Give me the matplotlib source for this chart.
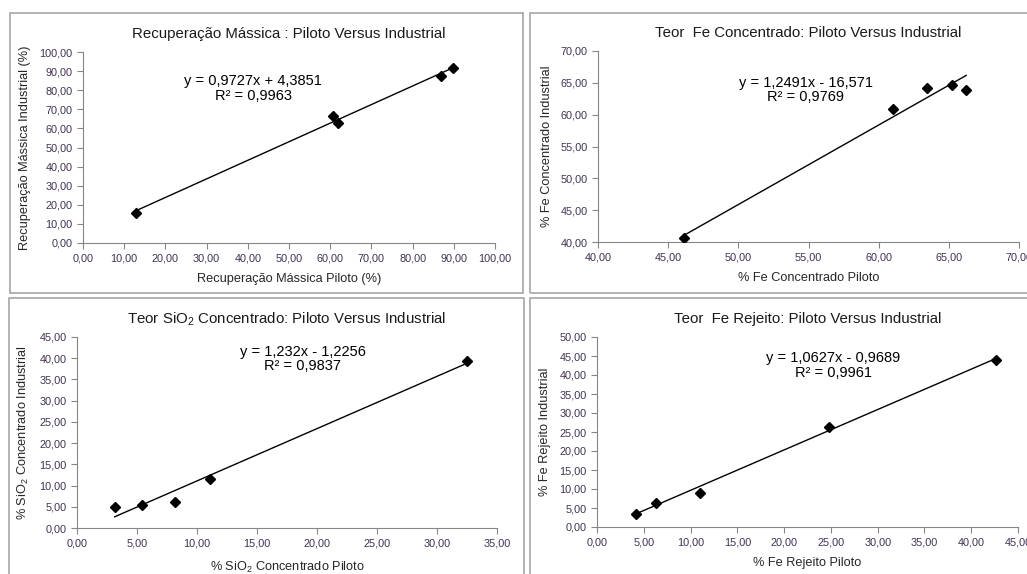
import matplotlib
matplotlib.use("Agg")
import matplotlib.pyplot as plt
from matplotlib.patches import Rectangle
from matplotlib.ticker import FuncFormatter, MultipleLocator
import numpy as np

plt.rcParams['font.family'] = ['Liberation Sans', 'DejaVu Sans']
plt.rcParams['mathtext.fontset'] = 'custom'
plt.rcParams['mathtext.rm'] = 'Liberation Sans'
plt.rcParams['mathtext.it'] = 'Liberation Sans:italic'
plt.rcParams['mathtext.bf'] = 'Liberation Sans:bold'

# --- dados ---
rec_piloto = [12.8, 60.6, 61.9, 87.0, 89.9]
rec_ind = [15.7, 66.3, 62.8, 87.6, 91.6]

fe_conc_piloto = [46.13, 60.99, 63.46, 65.22, 66.24]
fe_conc_ind = [40.57, 60.92, 64.2, 64.73, 63.84]

sio2_piloto = [3.14, 5.44, 8.19, 11.1, 32.5]
sio2_ind = [4.95, 5.5, 6.2, 11.47, 39.36]

fe_rej_piloto = [4.14, 6.31, 11.06, 24.82, 42.69]
fe_rej_ind = [3.5, 6.2, 8.83, 26.2, 43.97]

# coeficientes da linha de tendencia (a, b) e R2
coef_rec = (0.9727, 4.3851, 0.9963)
coef_fe_conc = (1.2491, -16.571, 0.9769)
coef_sio2 = (1.232, -1.2256, 0.9837)
coef_fe_rej = (1.0627, -0.9689, 0.9961)

titulos = ["Recuperação Mássica : Piloto Versus Industrial",
           "Teor  Fe Concentrado: Piloto Versus Industrial",
           "Teor SiO$_\\mathregular{2}$ Concentrado: Piloto Versus Industrial",
           "Teor  Fe Rejeito: Piloto Versus Industrial"]
xlabels = ["Recuperação Mássica Piloto (%)",
           "% Fe Concentrado Piloto",
           "% SiO$_\\mathregular{2}$ Concentrado Piloto",
           "% Fe Rejeito Piloto"]
ylabels = ["Recuperação Mássica Industrial (%)",
           "% Fe Concentrado Industrial",
           "% SiO$_\\mathregular{2}$ Concentrado Industrial",
           "% Fe Rejeito Industrial"]

W, H = 1027, 574
fig = plt.figure(figsize=(W/100, H/100), dpi=100)

def px(l, t, r, b):
    return [l/W, 1-b/H, (r-l)/W, (b-t)/H]

# molduras dos graficos
for (l, t, r, b) in [(10, 13, 523, 293), (530, 13, 1032, 293),
                     (9, 298, 524, 580), (530, 298, 1032, 580)]:
    fig.patches.append(Rectangle((l/W, 1-b/H), (r-l)/W, (b-t)/H,
                                 transform=fig.transFigure, fill=False,
                                 edgecolor='#a6a6a6', linewidth=1.2))

paineis = [
    (rec_piloto, rec_ind, coef_rec, px(83, 52, 495, 243), (0, 100, 10), (0, 100, 10),
     (0.413, 0.81), (-0.125, -0.157)),
    (fe_conc_piloto, fe_conc_ind, coef_fe_conc, px(598, 51, 1019, 242), (40, 70, 5), (40, 70, 5),
     (0.494, 0.796), (-0.107, -0.157)),
    (sio2_piloto, sio2_ind, coef_sio2, px(77, 337, 497, 528), (0, 35, 5), (0, 45, 5),
     (0.538, 0.885), (-0.11, -0.168)),
    (fe_rej_piloto, fe_rej_ind, coef_fe_rej, px(597, 337, 1018, 527), (0, 45, 5), (0, 50, 5),
     (0.561, 0.85), (-0.109, -0.158)),
]

fmt = FuncFormatter(lambda v, p: "{:.2f}".format(v).replace('.', ','))
tick_cor = '#403152'
eixo_cor = '#868686'

for i, (x, y, coef, pos, xr, yr, txt, lab) in enumerate(paineis):
    ax = fig.add_axes(pos)
    a, b, r2 = coef
    xs = np.array([min(x), max(x)])
    ax.plot(xs, a*xs + b, color='black', lw=1.0, zorder=2)
    ax.plot(x, y, 'D', color='black', markersize=5, zorder=3)
    ax.set_xlim(xr[0], xr[1])
    ax.set_ylim(yr[0], yr[1])
    ax.xaxis.set_major_locator(MultipleLocator(xr[2]))
    ax.yaxis.set_major_locator(MultipleLocator(yr[2]))
    ax.xaxis.set_major_formatter(fmt)
    ax.yaxis.set_major_formatter(fmt)
    for s in ['top', 'right']:
        ax.spines[s].set_visible(False)
    for s in ['left', 'bottom']:
        ax.spines[s].set_color(eixo_cor)
    ax.tick_params(colors=eixo_cor, labelcolor=tick_cor, labelsize=7.8, length=4, width=0.8)
    ax.set_title(titulos[i], fontsize=10.8, color='#1a1a1a', pad=10)
    ax.set_xlabel(xlabels[i], fontsize=9.2, color='#262626')
    ax.set_ylabel(ylabels[i], fontsize=9.2, color='#262626')
    ax.yaxis.set_label_coords(lab[0], 0.5)
    ax.xaxis.set_label_coords(0.5, lab[1])
    sinal = '+' if b >= 0 else '-'
    eq = "y = {}x {} {}\nR² = {}".format(str(a).replace('.', ','), sinal,
                                          str(abs(b)).replace('.', ','),
                                          str(r2).replace('.', ','))
    ax.text(txt[0], txt[1], eq, transform=ax.transAxes, ha='center', va='center',
            multialignment='center', fontsize=10.5, color='black', linespacing=1.05)

fig.savefig("out.png", dpi=100)
